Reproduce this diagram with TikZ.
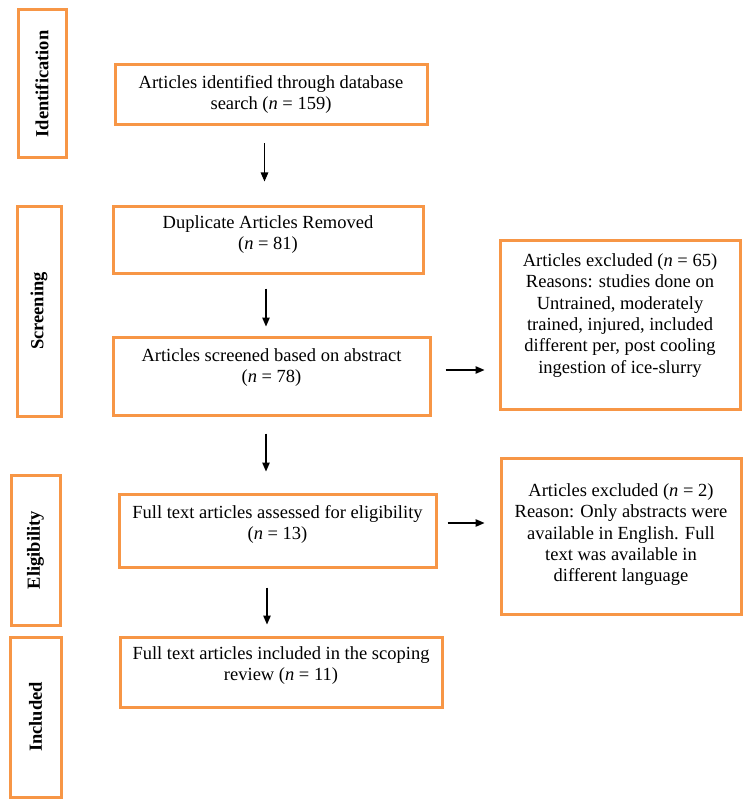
\documentclass[tikz,border=0pt]{standalone}
\usepackage{fontspec}
\setmainfont{Liberation Serif}
\usepackage{graphicx}
\usetikzlibrary{arrows.meta}
\definecolor{prisma}{RGB}{247,150,70}
\newcommand\bx[4]{\parbox[c][#2pt][t]{#1pt}{\centering\rule{0pt}{#3pt}#4\par}}
\newcommand\sidelab[1]{\rotatebox{90}{\textbf{#1}}}
\tikzset{
  box/.style={draw=prisma, line width=3pt, inner sep=0pt, anchor=north west,
    font=\fontsize{18.5pt}{21.3pt}\selectfont},
  sidebox/.style={box, align=center},
  arr/.style={-{Triangle[length=9pt,width=7.5pt]}, line width=1.2pt, black}
}
\begin{document}
\begin{tikzpicture}[x=1pt,y=-1pt]
\useasboundingbox (0,0) rectangle (749,805);
% stage boxes
\node[sidebox, minimum width=48pt, minimum height=148pt] (s1) at (16.5,8.5) {\sidelab{Identification}};
\node[sidebox, minimum width=44pt, minimum height=210pt] (s2) at (15.5,204.5) {\sidelab{Screening}};
\node[sidebox, minimum width=49pt, minimum height=150pt] (s3) at (9.5,473.5) {\sidelab{Eligibility}};
\node[sidebox, minimum width=51pt, minimum height=160pt] (s4) at (8.5,635.5) {\sidelab{Included}};
% main boxes
\node[box] (b1) at (113.5,63.5) {\bx{312}{60}{23.5}{Articles identified through database\\search (\textit{n} = 159)}};
\node[box] (b2) at (111.5,204.5) {\bx{310}{67}{22.5}{Duplicate Articles Removed\\(\textit{n} = 81)}};
\node[box] (b3) at (111.5,335.5) {\bx{317}{78}{24.5}{Articles screened based on abstract\\(\textit{n} = 78)}};
\node[box] (b4) at (117.5,492.5) {\bx{317}{73}{24.5}{Full text articles assessed for eligibility\\(\textit{n} = 13)}};
\node[box] (b5) at (118.5,635.5) {\bx{322}{70}{22.5}{Full text articles included in the scoping\\review (\textit{n} = 11)}};
% exclusion boxes
\node[box] (e1) at (498.5,238.5) {\bx{240}{169}{26.5}{Articles excluded (\textit{n} = 65)\\Reasons: studies done on\\Untrained, moderately\\trained, injured, included\\different per, post cooling\\ingestion of ice-slurry}};
\node[box] (e2) at (499.5,456.5) {\bx{240}{156}{38.5}{Articles excluded (\textit{n} = 2)\\Reason: Only abstracts were\\available in English. Full\\text was available in\\different language}};
% arrows
\draw[arr, shorten <=17pt, shorten >=23pt] ([xshift=-6.5pt]b1.south) -- ([xshift=-6.5pt]b1.south |- b2.north);
\draw[arr, shorten <=14pt, shorten >=9pt] (b2.south -| 266,0) -- (b3.north -| 266,0);
\draw[arr, shorten <=17pt, shorten >=21pt] (b3.south -| 266,0) -- (b4.north -| 266,0);
\draw[arr, shorten <=19pt, shorten >=11pt] (b4.south -| 267,0) -- (b5.north -| 267,0);
\draw[arr, shorten <=14pt, shorten >=14pt] (b3.east |- 0,370) -- (e1.west |- 0,370);
\draw[arr, shorten <=10pt, shorten >=15pt] (b4.east |- 0,523) -- (e2.west |- 0,523);
\end{tikzpicture}
\end{document}
